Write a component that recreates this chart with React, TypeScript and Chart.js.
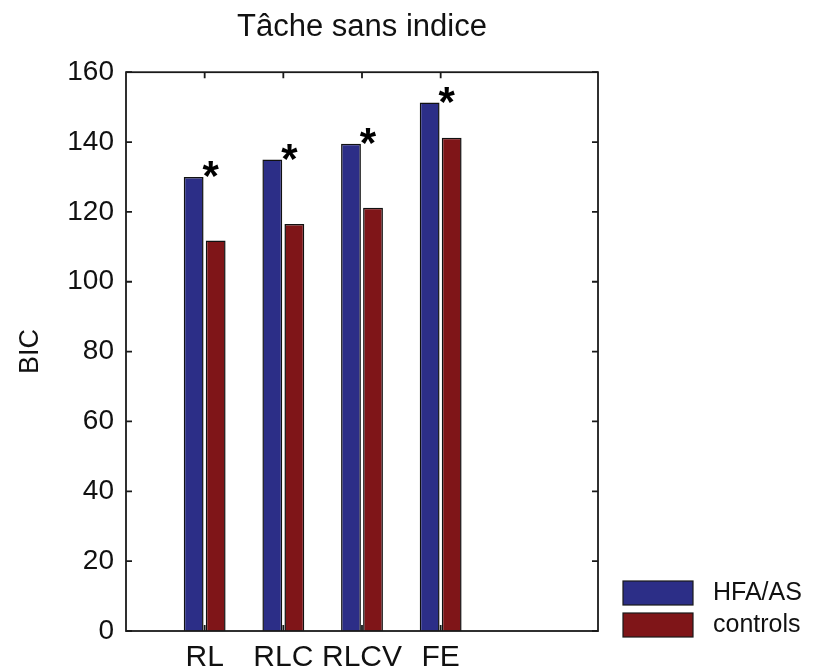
import React, { useEffect, useRef } from 'react';
import { Chart, registerables } from 'chart.js';

Chart.register(...registerables);

const chartTitle = 'Tâche sans indice';
const yAxisLabel = 'BIC';
const categories = ['RL', 'RLC', 'RLCV', 'FE'];
const seriesNames = ['HFA/AS', 'controls'];
const hfaValues = [130, 135, 139.5, 151.3];
const controlValues = [111.8, 116.5, 121.2, 141.2];
const significant = [true, true, true, true];
const yMin = 0;
const yMax = 160;
const yStep = 20;
const seriesColors = ['#2c2e87', '#7f1518'];

// x positions 0..6 like the original axis limits; categories sit at 1..4
const xLabels = ['', ...categories, '', ''];
const pad = (arr: number[]) => [null, ...arr, null, null];

const FONT = "'Liberation Sans', Arial, Helvetica, sans-serif";

const framePlugin = {
  id: 'frameAndMarks',
  afterDatasetsDraw(chart: any) {
    const { ctx, chartArea, scales } = chart;
    const { left, right, top, bottom } = chartArea;
    const x = scales.x;
    const y = scales.y;
    ctx.save();
    ctx.strokeStyle = '#1a1a1a';
    ctx.lineWidth = 1.8;
    ctx.strokeRect(left, top, right - left, bottom - top);
    const tl = 6;
    ctx.beginPath();
    y.ticks.forEach((t: any) => {
      const py = y.getPixelForValue(t.value);
      ctx.moveTo(left, py);
      ctx.lineTo(left + tl, py);
      ctx.moveTo(right, py);
      ctx.lineTo(right - tl, py);
    });
    categories.forEach((_c, i) => {
      const px = x.getPixelForValue(i + 1);
      ctx.moveTo(px, top);
      ctx.lineTo(px, top + tl);
      ctx.moveTo(px, bottom);
      ctx.lineTo(px, bottom - tl);
    });
    ctx.stroke();

    // significance asterisks
    ctx.fillStyle = '#000';
    ctx.font = `bold 42px ${FONT}`;
    ctx.textAlign = 'center';
    ctx.textBaseline = 'alphabetic';
    significant.forEach((s, i) => {
      if (!s) return;
      const px = x.getPixelForValue(i + 1) + 6;
      const py = y.getPixelForValue(hfaValues[i]) + 13;
      ctx.fillText('*', px, py);
    });

    // legend
    ctx.font = `25px ${FONT}`;
    ctx.textAlign = 'left';
    ctx.textBaseline = 'middle';
    chart.data.datasets.forEach((ds: any, i: number) => {
      const bx = right + 25;
      const by = bottom - 50 + i * 32;
      ctx.fillStyle = ds.backgroundColor;
      ctx.fillRect(bx, by, 70, 24);
      ctx.lineWidth = 1.2;
      ctx.strokeStyle = '#1a1a1a';
      ctx.strokeRect(bx, by, 70, 24);
      ctx.fillStyle = '#111';
      ctx.fillText(ds.label, right + 115, by + 12);
    });
    ctx.restore();
  },
};

export default function App() {
  const canvasRef = useRef<HTMLCanvasElement | null>(null);

  useEffect(() => {
    document.body.style.margin = '0';
    const canvas = canvasRef.current;
    if (!canvas) return;
    const chart = new Chart(canvas, {
      type: 'bar',
      data: {
        labels: xLabels,
        datasets: [
          {
            label: seriesNames[0],
            data: pad(hfaValues) as any,
            backgroundColor: seriesColors[0],
            borderColor: '#111',
            borderWidth: 1.5,
          },
          {
            label: seriesNames[1],
            data: pad(controlValues) as any,
            backgroundColor: seriesColors[1],
            borderColor: '#111',
            borderWidth: 1.5,
          },
        ],
      },
      options: {
        responsive: false,
        animation: false,
        layout: { padding: { left: 0, right: 216, top: 0, bottom: 0 } },
        datasets: {
          bar: { categoryPercentage: 0.56, barPercentage: 0.9 },
        },
        plugins: {
          legend: { display: false },
          tooltip: { enabled: false },
          title: {
            display: true,
            text: chartTitle,
            fullSize: false,
            color: '#111',
            font: { family: FONT, size: 31, weight: 'normal' },
            padding: { top: 9, bottom: 26 },
          },
        },
        scales: {
          x: {
            type: 'category',
            offset: false,
            grid: { display: false, drawTicks: false },
            border: { display: false },
            ticks: {
              autoSkip: false,
              maxRotation: 0,
              padding: 9,
              color: '#111',
              font: { family: FONT, size: 30 },
            },
            afterFit: (s: any) => {
              s.height = 39;
            },
          },
          y: {
            min: yMin,
            max: yMax,
            grid: { display: false, drawTicks: false },
            border: { display: false },
            ticks: {
              stepSize: yStep,
              padding: 12,
              color: '#111',
              font: { family: FONT, size: 28 },
            },
            title: {
              display: true,
              text: yAxisLabel,
              color: '#111',
              font: { family: FONT, size: 27 },
              padding: { top: 14, bottom: 4 },
            },
            afterFit: (s: any) => {
              s.width = 126;
            },
          },
        },
      },
      plugins: [framePlugin],
    });
    return () => chart.destroy();
  }, []);

  return (
    <div style={{ width: 814, height: 670, background: '#fff' }}>
      <canvas ref={canvasRef} width={814} height={670} />
    </div>
  );
}
